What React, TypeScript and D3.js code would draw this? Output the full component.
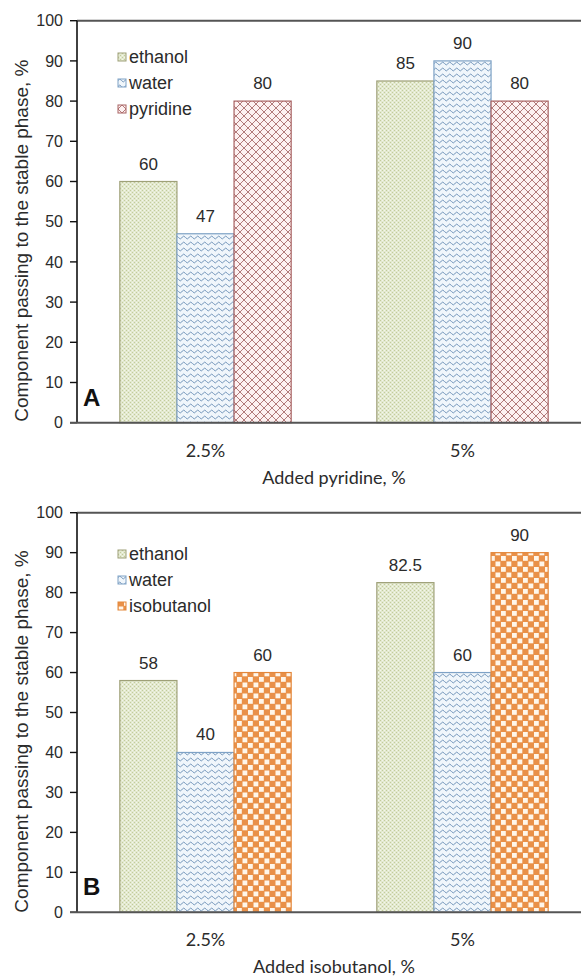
import React from "react";
import * as d3 from "d3";

const categories = ["2.5%", "5%"];
const yTicks = [0, 10, 20, 30, 40, 50, 60, 70, 80, 90, 100];

const seriesA = ["ethanol", "water", "pyridine"];
const ethanolA = [60, 85];
const waterA = [47, 90];
const pyridineA = [80, 80];
const labelsA = [["60", "85"], ["47", "90"], ["80", "80"]];

const seriesB = ["ethanol", "water", "isobutanol"];
const ethanolB = [58, 82.5];
const waterB = [40, 60];
const isobutanolB = [60, 90];
const labelsB = [["58", "82.5"], ["40", "60"], ["60", "90"]];

const yTitle = "Component passing to the stable phase, %";
const xTitleA = "Added pyridine, %";
const xTitleB = "Added isobutanol, %";

const styles: Record<string, { fill: string; stroke: string }> = {
  ethanol: { fill: "url(#patEthanol)", stroke: "#9ea078" },
  water: { fill: "url(#patWater)", stroke: "#7ea2c6" },
  pyridine: { fill: "url(#patPyridine)", stroke: "#a86262" },
  isobutanol: { fill: "url(#patIso)", stroke: "#e3873a" },
};

const FONT = "'Liberation Sans', Arial, sans-serif";
const FONT2 = "Lato, 'Liberation Sans', sans-serif";
const TXT = "#2b2b2b";

type PanelProps = {
  top: number;
  bottom: number;
  series: string[];
  values: number[][];
  labels: string[][];
  xTitle: string;
  letter: string;
  legendY: number;
};

function Panel({ top, bottom, series, values, labels, xTitle, letter, legendY }: PanelProps) {
  const left = 77;
  const right = 591;
  const y = d3.scaleLinear().domain([0, 100]).range([bottom, top]);
  const x0 = d3.scaleBand<string>().domain(categories).range([left, right]);
  const band = x0.bandwidth();
  const gap = (band * 1.5) / 4.5;
  const x1 = d3.scaleBand<string>().domain(series).range([gap / 2, band - gap / 2]);
  const midX = (left + right) / 2;
  return (
    <g>
      <line x1={left} x2={right} y1={top} y2={top} stroke="#555" strokeWidth={2} />
      {series.map((s, si) =>
        categories.map((c, ci) => {
          const v = values[si][ci];
          const bx = (x0(c) as number) + (x1(s) as number);
          const bw = x1.bandwidth();
          return (
            <g key={s + c}>
              <rect
                x={bx}
                y={y(v)}
                width={bw}
                height={y(0) - y(v)}
                fill={styles[s].fill}
                stroke={styles[s].stroke}
                strokeWidth={1.2}
              />
              <text
                x={bx + bw / 2}
                y={y(v) - 12}
                textAnchor="middle"
                fontFamily={FONT}
                fontSize={17}
                fill={TXT}
              >
                {labels[si][ci]}
              </text>
            </g>
          );
        })
      )}
      <line x1={left} x2={left} y1={top} y2={bottom} stroke="#111" strokeWidth={1.6} />
      {yTicks.map((t) => (
        <g key={t}>
          <line x1={70} x2={left} y1={y(t)} y2={y(t)} stroke="#111" strokeWidth={1.4} />
          <text
            x={63}
            y={y(t)}
            dy="0.36em"
            textAnchor="end"
            fontFamily={FONT}
            fontSize={16}
            fill={TXT}
          >
            {t}
          </text>
        </g>
      ))}
      <line x1={70} x2={right} y1={bottom} y2={bottom} stroke="#555" strokeWidth={2} />
      {categories.map((c) => (
        <text
          key={c}
          x={(x0(c) as number) + band / 2}
          y={bottom + 34}
          textAnchor="middle"
          fontFamily={FONT2}
          fontSize={18}
          fill={TXT}
        >
          {c}
        </text>
      ))}
      <text x={midX} y={bottom + 61} textAnchor="middle" fontFamily={FONT2} fontSize={18} fill={TXT}>
        {xTitle}
      </text>
      <text
        transform={`translate(28,${(top + bottom) / 2 + 19}) rotate(-90)`}
        textAnchor="middle"
        fontFamily={FONT}
        fontSize={19}
        fill={TXT}
      >
        {yTitle}
      </text>
      <text x={83} y={bottom - 17} fontFamily={FONT} fontWeight="bold" fontSize={24} fill="#111">
        {letter}
      </text>
      {series.map((s, i) => (
        <g key={s} transform={`translate(118,${legendY + i * 26})`}>
          <rect x={0} y={-4} width={8} height={8} fill={styles[s].fill} stroke={styles[s].stroke} strokeWidth={1} />
          <text x={11} y={0} dy="0.36em" fontFamily={FONT} fontSize={18} fill={TXT}>
            {s}
          </text>
        </g>
      ))}
    </g>
  );
}

export default function App() {
  return (
    <svg
      width={581}
      height={978}
      style={{ position: "absolute", left: 0, top: 0, background: "#fff" }}
    >
      <defs>
        <pattern id="patEthanol" patternUnits="userSpaceOnUse" width={4} height={4}>
          <rect width={4} height={4} fill="#e3e9cf" />
          <rect x={0} y={0} width={1} height={1} fill="#c3cb9c" />
          <rect x={2} y={2} width={1} height={1} fill="#c3cb9c" />
          <rect x={2} y={0} width={1} height={1} fill="#f4f6ec" />
          <rect x={0} y={2} width={1} height={1} fill="#f4f6ec" />
        </pattern>
        <pattern id="patWater" patternUnits="userSpaceOnUse" width={7} height={6}>
          <rect width={7} height={6} fill="#f0f6fb" />
          <path d="M0,3.5 Q1.75,0.6 3.5,3.5 T7,3.5" fill="none" stroke="#7597bb" strokeWidth={1} />
        </pattern>
        <pattern id="patPyridine" patternUnits="userSpaceOnUse" width={8} height={8}>
          <rect width={8} height={8} fill="#fdf1f1" />
          <path d="M0,0 L8,8 M8,0 L0,8" fill="none" stroke="#b27a7a" strokeWidth={1} />
        </pattern>
        <pattern id="patIso" patternUnits="userSpaceOnUse" width={11} height={11}>
          <rect width={11} height={11} fill="#e99048" />
          <rect x={0.5} y={0.5} width={4.8} height={4.8} fill="#fff6ea" />
          <rect x={6} y={6} width={4.8} height={4.8} fill="#fff6ea" />
        </pattern>
      </defs>
      <Panel
        top={20.7}
        bottom={422.7}
        series={seriesA}
        values={[ethanolA, waterA, pyridineA]}
        labels={labelsA}
        xTitle={xTitleA}
        letter="A"
        legendY={57}
      />
      <Panel
        top={512.7}
        bottom={912.3}
        series={seriesB}
        values={[ethanolB, waterB, isobutanolB]}
        labels={labelsB}
        xTitle={xTitleB}
        letter="B"
        legendY={554}
      />
    </svg>
  );
}
